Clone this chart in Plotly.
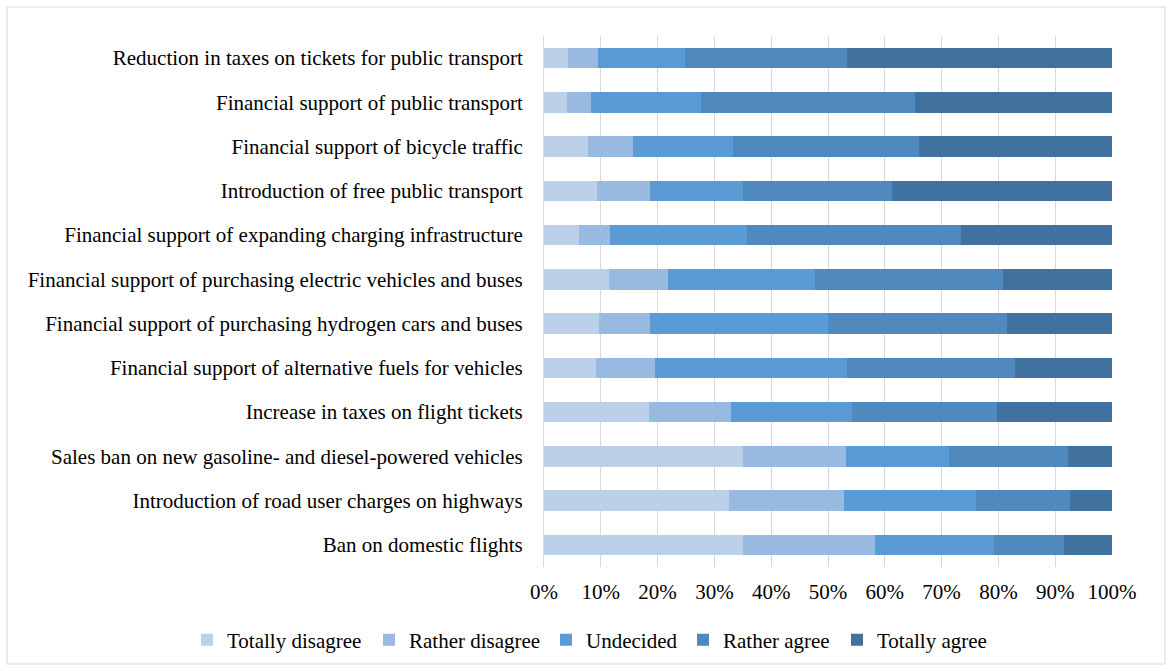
import plotly.graph_objects as go

categories = [
    "Reduction in taxes on tickets for public transport",
    "Financial support of public transport",
    "Financial support of bicycle traffic",
    "Introduction of free public transport",
    "Financial support of expanding charging infrastructure",
    "Financial support of purchasing electric vehicles and buses",
    "Financial support of purchasing hydrogen cars and buses",
    "Financial support of alternative fuels for vehicles",
    "Increase in taxes on flight tickets",
    "Sales ban on new gasoline- and diesel-powered vehicles",
    "Introduction of road user charges on highways",
    "Ban on domestic flights",
]

totally_disagree = [4.3, 4.1, 7.7, 9.4, 6.1, 11.4, 9.6, 9.2, 18.4, 35.0, 32.5, 35.1]
rather_disagree  = [5.2, 4.2, 7.9, 9.3, 5.6, 10.5, 9.0, 10.4, 14.5, 18.2, 20.4, 23.2]
undecided        = [15.4, 19.3, 17.7, 16.3, 24.0, 25.8, 31.4, 33.7, 21.3, 18.1, 23.1, 20.9]
rather_agree     = [28.4, 37.8, 32.7, 26.3, 37.7, 33.1, 31.6, 29.6, 25.5, 21.0, 16.6, 12.4]
totally_agree    = [46.7, 34.6, 34.0, 38.7, 26.6, 19.2, 18.4, 17.1, 20.3, 7.7, 7.4, 8.4]

series_names = ["Totally disagree", "Rather disagree", "Undecided", "Rather agree", "Totally agree"]
series_values = [totally_disagree, rather_disagree, undecided, rather_agree, totally_agree]
series_colors = ["#BDD0EA", "#98B9E0", "#5B9BD5", "#4F89BD", "#41729F"]

tick_vals = list(range(0, 101, 10))
tick_text = [f"{v}%" for v in tick_vals]

W, H = 1172, 671
L, R, T, B = 544, 60, 36, 104
pw, ph = W - L - R, H - T - B
FONT = 21
legend_x_px = [187, 369, 546, 683, 837]
legend_y_px = 640

fig = go.Figure()
legend_layouts = {}
for i, (name, vals, color) in enumerate(zip(series_names, series_values, series_colors)):
    key = "legend" if i == 0 else f"legend{i + 1}"
    fig.add_trace(go.Bar(
        y=categories, x=vals, name=name, orientation="h",
        marker=dict(color=color, line=dict(width=0)),
        legend=key, showlegend=True,
    ))
    legend_layouts[key] = dict(
        orientation="h", xref="container", yref="container",
        x=legend_x_px[i] / W, xanchor="left",
        y=(H - legend_y_px) / H, yanchor="middle",
        font=dict(size=FONT, color="black"), itemwidth=30,
        bgcolor="rgba(0,0,0,0)", borderwidth=0, visible=True,
    )

fig.update_layout(
    width=W, height=H,
    showlegend=True,
    barmode="stack",
    bargap=0.54,
    margin=dict(l=L, r=R, t=T, b=B, pad=0),
    paper_bgcolor="white",
    plot_bgcolor="white",
    font=dict(family="Liberation Serif, Times New Roman, serif", size=FONT, color="black"),
    xaxis=dict(
        range=[0, 100], tickvals=tick_vals, ticktext=tick_text,
        showgrid=True, gridcolor="#D9D9D9", gridwidth=1,
        zeroline=False, showline=False, ticks="", ticklen=0,
        ticklabelstandoff=10, automargin=False,
        tickfont=dict(size=FONT),
    ),
    yaxis=dict(
        autorange="reversed", showgrid=False, zeroline=False,
        showline=True, linecolor="#D9D9D9", linewidth=1,
        ticks="", ticklabelstandoff=16, automargin=False,
        tickfont=dict(size=FONT),
    ),
    shapes=[dict(
        type="rect", xref="paper", yref="paper",
        x0=(7 - L) / pw, x1=(1165 - L) / pw,
        y0=-(664 - (T + ph)) / ph, y1=1 + (T - 7) / ph,
        line=dict(color="#D9D9D9", width=1), fillcolor="rgba(0,0,0,0)", layer="below",
    )],
    **legend_layouts,
)

fig.write_html("out.html", post_script="document.body.style.margin='0';",
               config={"displayModeBar": False})
